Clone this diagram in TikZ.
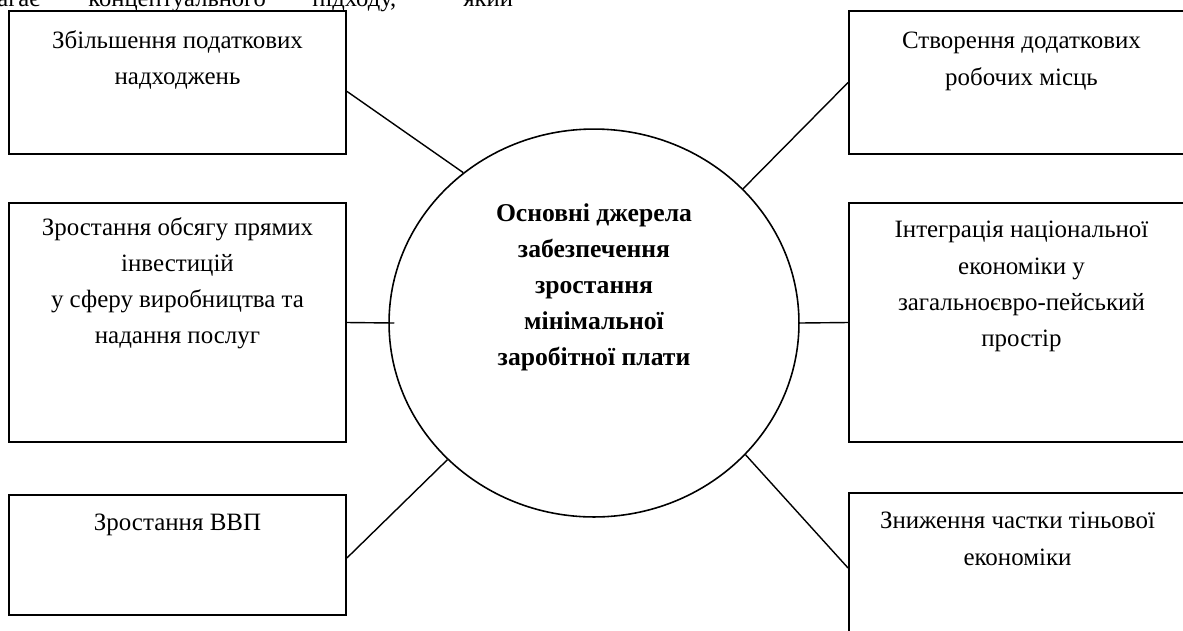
\documentclass[tikz,border=0pt]{standalone}
\usepackage{fontspec}
\setmainfont{Liberation Serif}
\usetikzlibrary{shapes.geometric}

\begin{document}
\begin{tikzpicture}[x=0.02cm, y=-0.02cm,
    box/.style={draw=black, line width=1.1pt, minimum width=6.74cm, inner sep=0pt},
    boxtext/.style={anchor=north, align=center, inner sep=0pt, font=\fontsize{14.2}{20.6}\selectfont},
    toptext/.style={anchor=base west, inner sep=0pt, font=\fontsize{14}{20}\selectfont},
    link/.style={draw=black, line width=0.8pt}]
    \useasboundingbox (0,0) rectangle (1183,630);
    \clip (0,0) rectangle (1183,630);

    % Рядок тексту зверху (обрізаний)
    \node[toptext] (w1) at (-3,6) {агає};
    \node[toptext] (w2) at (88,6) {концептуального};
    \node[toptext] (w3) at (312,6) {підходу,};
    \node[toptext] (w4) at (463,6) {який};

    % Еліпс у центрі
    \node[draw=black, ellipse, line width=0.9pt, minimum width=8.2cm, minimum height=7.76cm, inner sep=0pt] (c) at (594,323) {};
    \node[boxtext, font=\fontsize{14.6}{20.6}\selectfont\bfseries] (ctext) at (594,203)
        {Основні джерела\\забезпечення\\зростання\\мінімальної\\заробітної плати};

    % Прямокутники
    \node[box, minimum height=2.86cm] (tl) at (177.5,82.5) {};
    \node[box, minimum height=2.86cm] (tr) at (1017.5,82.5) {};
    \node[box, minimum height=4.78cm] (ml) at (177.5,322.5) {};
    \node[box, minimum height=4.78cm] (mr) at (1017.5,322.5) {};
    \node[box, minimum height=2.4cm] (bl) at (177.5,555) {};
    \node[box, minimum height=3cm] (br) at (1017.5,568) {};

    % Тексти у прямокутниках
    \node[boxtext] (tltext) at ([yshift=-0.4cm]tl.north) {Збільшення податкових\\надходжень};
    \node[boxtext] (trtext) at ([xshift=0.08cm, yshift=-0.44cm]tr.north) {Створення додаткових\\робочих місць};
    \node[boxtext] (mltext) at ([yshift=-0.3cm]ml.north)
        {Зростання обсягу прямих\\інвестицій\\у сферу виробництва та\\надання послуг};
    \node[boxtext] (mrtext) at ([xshift=0.08cm, yshift=-0.38cm]mr.north)
        {Інтеграція національної\\економіки у\\загальноєвро-пейський\\простір};
    \node[boxtext] (bltext) at ([yshift=-0.4cm]bl.north) {Зростання ВВП};
    \node[boxtext] (brtext) at ([yshift=-0.4cm]br.north) {Зниження частки тіньової\\економіки};

    % Лінії
    \draw[link] (tl.-3) -- (c.131.7);
    \draw[link] (c.42) -- (tr.west);
    \draw[link] (ml.east) -- ([xshift=0.12cm]c.west);
    \draw[link] (c.east) -- (mr.west);
    \draw[link] (bl.-1) -- (c.223.4);
    \draw[link] (c.-41) -- (br.west);
\end{tikzpicture}
\end{document}
